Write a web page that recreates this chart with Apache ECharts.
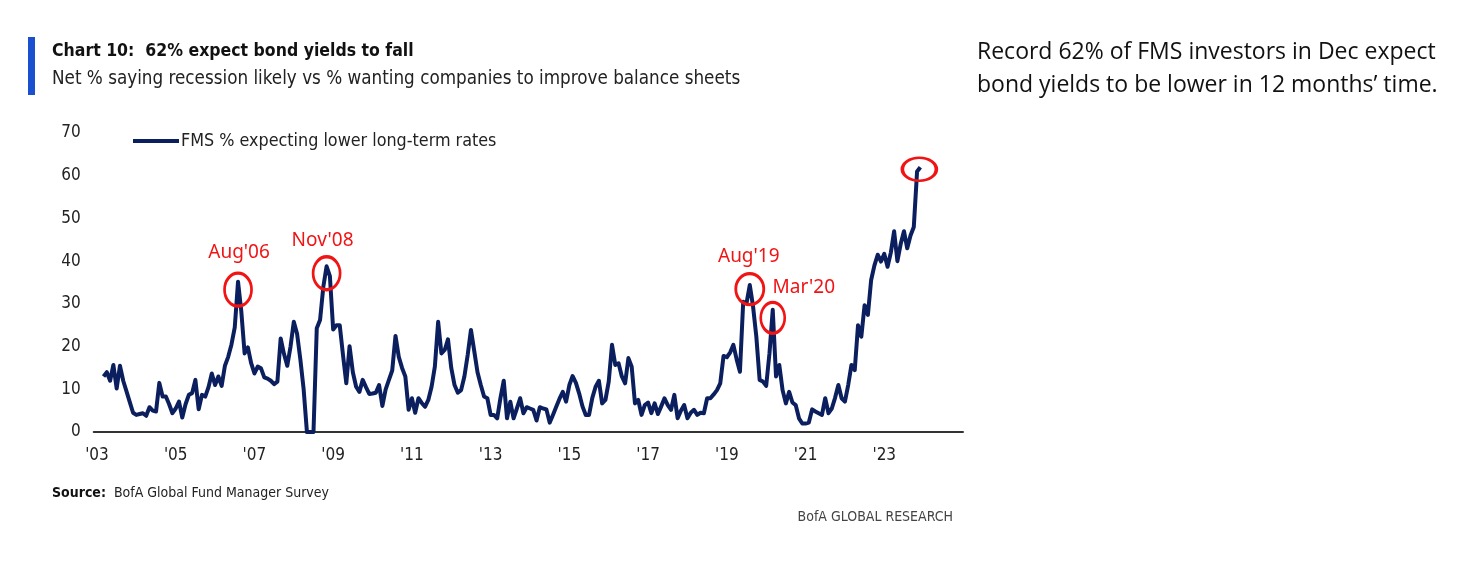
<!DOCTYPE html>
<html>
<head>
<meta charset="utf-8">
<script src="https://cdn.jsdelivr.net/npm/echarts@6/dist/echarts.min.js"></script>
<style>
html,body{margin:0;padding:0;background:#fff;}
#chart{width:1464px;height:574px;}
</style>
</head>
<body>
<div id="chart"></div>
<script>
// ---------- DATA ----------
var axisStart = '2002-12';   // first category on the axis
var axisEnd = '2025-01';     // last category on the axis
var seriesStart = '2003-03'; // first month of data
var seriesName = 'FMS % expecting lower long-term rates';
// monthly values, Mar 2003 .. Dec 2023
var values = [
  13, 14, 12, 15.7, 10.2, 15.5, 12, 9.5, 7, 4.5,          // 2003 Mar-Dec
  4, 4.2, 4.4, 3.8, 5.8, 5, 4.8, 11.5, 8.3, 8.3, 6.5, 4.4, // 2004
  5.5, 7.1, 3.4, 6.5, 8.7, 9.1, 12.2, 5.3, 8.7, 8.3, 10.5, 13.7, // 2005
  11, 13, 10.8, 15.5, 17.6, 20.5, 24.5, 35.2, 28.2, 18.4, 19.8, 16.1, // 2006
  13.7, 15.3, 14.9, 12.8, 12.5, 12, 11.2, 11.8, 21.9, 18.3, 15.5, 20, // 2007
  25.8, 23, 17, 10, 0, 0, 0, 24.3, 26.2, 34, 38.8, 36.5, // 2008
  24, 25, 25, 18, 11.4, 20.1, 14, 10.6, 9.4, 12.2, 10.5, 8.9, // 2009
  9, 9.2, 11, 6.1, 10, 12.2, 14.4, 22.5, 17.6, 15, 13, 5.2, // 2010
  7.9, 4.5, 7.9, 6.8, 5.9, 7.5, 10.6, 15.3, 25.8, 18.4, 19.2, 21.7, // 2011
  15, 11, 9.2, 9.8, 13, 18, 23.9, 19, 14, 11, 8.3, 7.9, // 2012
  4, 4, 3.2, 8, 12, 3.2, 7.1, 3.2, 5.5, 7.9, 4.4, 5.8, // 2013
  5.5, 5.2, 2.7, 5.8, 5.5, 5.3, 2.2, 4, 5.9, 7.8, 9.4, 7.1, // 2014
  11, 13.1, 11.5, 9, 6, 4, 4, 8, 10.6, 12, 6.7, 7.5, // 2015
  11.8, 20.4, 15.7, 16.1, 13, 11.4, 17.3, 15.3, 6.7, 7.5, 4, 6.3, // 2016
  6.9, 4.4, 6.7, 4.2, 6, 7.9, 6.3, 5.2, 8.7, 3.2, 5, 6.3, // 2017
  3.2, 4.5, 5.2, 4, 4.5, 4.4, 7.9, 7.9, 8.8, 9.8, 11.4, 17.8, // 2018
  17.5, 18.6, 20.4, 17, 14.1, 30.5, 30.1, 34.4, 29.4, 22.3, 12.2, 11.8, // 2019
  10.8, 18.4, 28.6, 13, 15.7, 9.8, 6.7, 9.4, 6.9, 6.3, 3.2, 2, // 2020
  2, 2.2, 5.3, 4.8, 4.4, 4, 7.9, 4.4, 5.5, 8, 11, 7.9, // 2021
  7.1, 11, 15.7, 14.5, 25, 22.3, 29.7, 27.4, 35.6, 39, 41.5, 39.9, // 2022
  41.7, 38.7, 42, 47, 40, 44, 47, 43, 46, 48, 61, 62  // 2023
];
// annotations: month, value at peak, label
var annotMonths = ['2006-08', '2008-11', '2019-08', '2020-03', '2023-12'];
var annotValues = [35.2, 38.8, 34.4, 28.6, 62];
var annotLabels = ["Aug'06", "Nov'08", "Aug'19", "Mar'20", ''];
// y axis
var yMin = 0, yMax = 70, yStep = 10;

// ---------- BUILD ----------
function ym(s){ var p = s.split('-'); return [+p[0], +p[1]]; }
function fmt(y, m){ return y + '-' + (m < 10 ? '0' + m : '' + m); }
var categories = [];
(function(){
  var a = ym(axisStart), b = ym(axisEnd), y = a[0], m = a[1];
  while (y < b[0] || (y === b[0] && m <= b[1])) {
    categories.push(fmt(y, m));
    m++; if (m > 12) { m = 1; y++; }
  }
})();
var startIdx = categories.indexOf(seriesStart);
var seriesData = categories.map(function(c, i){
  var k = i - startIdx;
  return (k >= 0 && k < values.length) ? values[k] : null;
});

// layout for annotation ellipses (size, offset from peak, label offset)
var annotLayout = [
  {size: [27, 33], off: [0, 8],  lab: [1, -37]},
  {size: [27, 33], off: [0, 7],  lab: [-4, -33]},
  {size: [28, 31], off: [0, 4],  lab: [-1, -32]},
  {size: [24, 31], off: [0, 8],  lab: [31, -30]},
  {size: [34, 23], off: [-1, 2], lab: [0, 0]}
];
var ellipsePath = 'path://M0,50 A50,50 0 1,1 100,50 A50,50 0 1,1 0,50 Z';
var markData = annotMonths.map(function(mo, i){
  var L = annotLayout[i];
  return {
    coord: [mo, annotValues[i]],
    symbol: ellipsePath,
    symbolSize: L.size,
    symbolOffset: L.off,
    label: {
      show: annotLabels[i] !== '',
      formatter: annotLabels[i],
      position: 'inside',
      offset: L.lab,
      color: '#f01414',
      fontSize: 19,
      fontFamily: 'Noto Sans, Open Sans, sans-serif'
    }
  };
});

var narrow = "'Liberation Sans Narrow', 'DejaVu Sans Condensed', 'Liberation Sans', sans-serif";

var chart = echarts.init(document.getElementById('chart'), null, {renderer: 'canvas'});
chart.setOption({
  animation: false,
  backgroundColor: '#ffffff',
  grid: {left: 93.7, right: 501, top: 133, bottom: 142, containLabel: false},
  legend: {
    left: 128, top: 127,
    icon: 'rect', itemWidth: 46, itemHeight: 4, itemGap: 10,
    data: [seriesName],
    textStyle: {color: '#222', fontSize: 17.8, fontFamily: narrow, padding: [0, 0, 0, -3]}
  },
  xAxis: {
    type: 'category',
    data: categories,
    boundaryGap: false,
    axisLine: {show: true, lineStyle: {color: '#333', width: 2}},
    axisTick: {show: false},
    axisLabel: {
      interval: function(i, v){ var p = ym(v); return p[1] === 1 && p[0] % 2 === 1 && p[0] <= 2023; },
      formatter: function(v){ return "'" + v.slice(2, 4); },
      color: '#222', fontSize: 17, fontFamily: narrow, margin: 15
    },
    splitLine: {show: false}
  },
  yAxis: {
    type: 'value', min: yMin, max: yMax, interval: yStep,
    axisLine: {show: false}, axisTick: {show: false}, splitLine: {show: false},
    axisLabel: {color: '#222', fontSize: 17, fontFamily: narrow, margin: 13}
  },
  series: [{
    name: seriesName,
    type: 'line',
    data: seriesData,
    showSymbol: false,
    symbol: 'none',
    connectNulls: false,
    lineStyle: {color: '#0b1f5e', width: 4, join: 'round'},
    itemStyle: {color: '#0b1f5e'},
    markPoint: {
      silent: true,
      itemStyle: {color: 'rgba(0,0,0,0)', borderColor: '#f01414', borderWidth: 3},
      data: markData
    }
  }],
  graphic: [
    {type: 'rect', left: 28, top: 37, shape: {width: 7, height: 58}, style: {fill: '#1a4fcf'}},
    {type: 'text', left: 52, top: 42, style: {text: 'Chart 10:  62% expect bond yields to fall', fill: '#111', font: "bold 17.5px " + narrow}},
    {type: 'text', left: 52, top: 70, style: {text: 'Net % saying recession likely vs % wanting companies to improve balance sheets', fill: '#222', font: "18.7px " + narrow}},
    {type: 'text', left: 977, top: 41, style: {text: 'Record 62% of FMS investors in Dec expect', fill: '#111', font: "23px 'Open Sans', 'Noto Sans', sans-serif"}},
    {type: 'text', left: 977, top: 74, style: {text: 'bond yields to be lower in 12 months\u2019 time.', fill: '#111', font: "23px 'Open Sans', 'Noto Sans', sans-serif"}},
    {type: 'text', left: 52, top: 486, style: {
      text: '{b|Source:}  BofA Global Fund Manager Survey',
      rich: {b: {font: "bold 14px " + narrow, fill: '#111'}},
      font: "14px " + narrow, fill: '#222'
    }},
    {type: 'text', right: 1464 - 953, top: 510, style: {text: 'BofA GLOBAL RESEARCH', fill: '#444', font: "14px " + narrow}}
  ]
});
</script>
</body>
</html>
